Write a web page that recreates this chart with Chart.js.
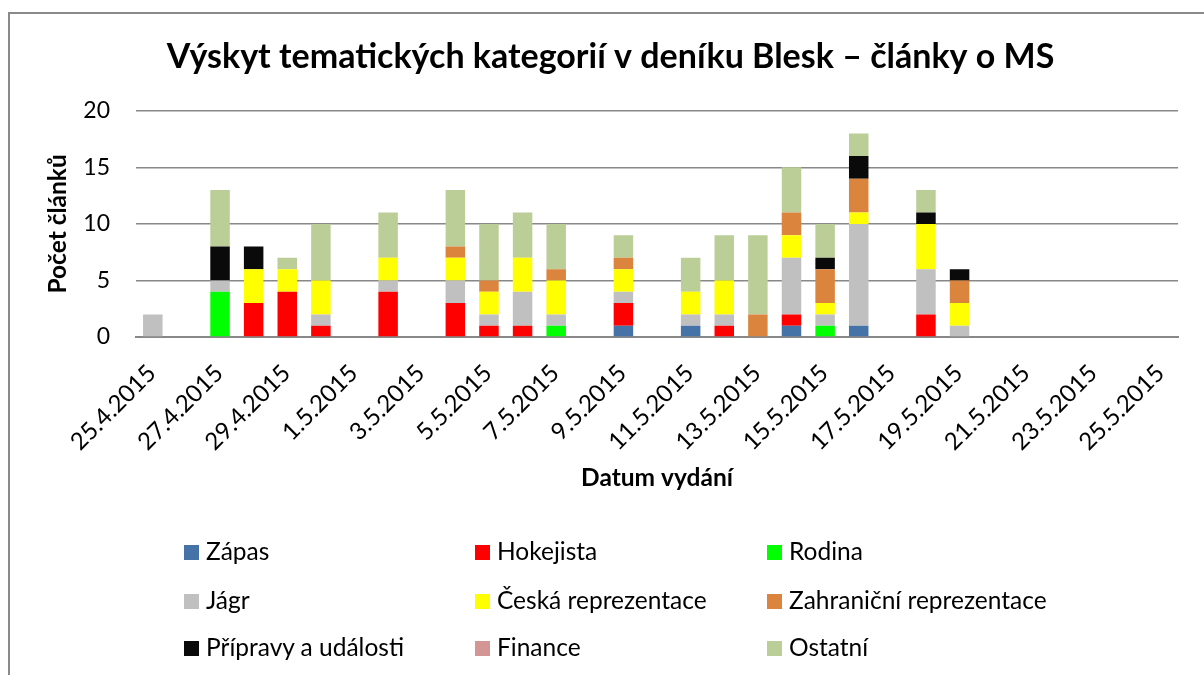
<!DOCTYPE html>
<html>
<head>
<meta charset="utf-8">
<script src="https://cdn.jsdelivr.net/npm/chart.js@4/dist/chart.umd.min.js"></script>
<style>
	body { margin:0; background:#fff; font-family:Lato, "Open Sans", sans-serif; }
	#wrap { position:relative; width:1204px; height:675px; overflow:hidden; }
	#frame { position:absolute; left:8px; top:12px; width:1300px; height:800px; border:2px solid #8a8a8a; box-sizing:border-box; }
	#c { position:absolute; left:0; top:0; }
	#legend .item { position:absolute; font-size:24.5px; color:#000; line-height:28px; white-space:nowrap; }
	#legend .box { display:inline-block; width:15px; height:15px; margin-right:7px; vertical-align:0px; }
</style>
</head>
<body>
<div id="wrap">
	<div id="frame"></div>
	<canvas id="c" width="1204" height="675"></canvas>
	<div id="legend"></div>
</div>
<script>
var dates = ['25.4.2015','26.4.2015','27.4.2015','28.4.2015','29.4.2015','30.4.2015',
	'1.5.2015','2.5.2015','3.5.2015','4.5.2015','5.5.2015','6.5.2015','7.5.2015','8.5.2015',
	'9.5.2015','10.5.2015','11.5.2015','12.5.2015','13.5.2015','14.5.2015','15.5.2015',
	'16.5.2015','17.5.2015','18.5.2015','19.5.2015','20.5.2015','21.5.2015','22.5.2015',
	'23.5.2015','24.5.2015','25.5.2015'];

//           25.4      30.4 1.5                 8.5 9.5              15.5                20.5        25.5
var zapas      = [0,0,0,0,0,0, 0,0,0,0,0,0,0,0, 1,0,1,0,0,1,0, 1,0,0,0, 0,0,0,0,0,0];
var hokejista  = [0,0,0,3,4,1, 0,4,0,3,1,1,0,0, 2,0,0,1,0,1,0, 0,0,2,0, 0,0,0,0,0,0];
var rodina     = [0,0,4,0,0,0, 0,0,0,0,0,0,1,0, 0,0,0,0,0,0,1, 0,0,0,0, 0,0,0,0,0,0];
var jagr       = [2,0,1,0,0,1, 0,1,0,2,1,3,1,0, 1,0,1,1,0,5,1, 9,0,4,1, 0,0,0,0,0,0];
var ceska      = [0,0,0,3,2,3, 0,2,0,2,2,3,3,0, 2,0,2,3,0,2,1, 1,0,4,2, 0,0,0,0,0,0];
var zahranicni = [0,0,0,0,0,0, 0,0,0,1,1,0,1,0, 1,0,0,0,2,2,3, 3,0,0,2, 0,0,0,0,0,0];
var pripravy   = [0,0,3,2,0,0, 0,0,0,0,0,0,0,0, 0,0,0,0,0,0,1, 2,0,1,1, 0,0,0,0,0,0];
var finance    = [0,0,0,0,0,0, 0,0,0,0,0,0,0,0, 0,0,0,0,0,0,0, 0,0,0,0, 0,0,0,0,0,0];
var ostatni    = [0,0,5,0,1,5, 0,4,0,5,5,4,4,0, 2,0,3,4,7,4,3, 2,0,2,0, 0,0,0,0,0,0];

var yTicks = [0, 5, 10, 15, 20];

var series = [
	{label:'Zápas', data:zapas, color:'#4572A7'},
	{label:'Hokejista', data:hokejista, color:'#FF0000'},
	{label:'Rodina', data:rodina, color:'#00FF00'},
	{label:'Jágr', data:jagr, color:'#C0C0C0'},
	{label:'Česká reprezentace', data:ceska, color:'#FFFF00'},
	{label:'Zahraniční reprezentace', data:zahranicni, color:'#DB843D'},
	{label:'Přípravy a události', data:pripravy, color:'#0A0A0A'},
	{label:'Finance', data:finance, color:'#D49595'},
	{label:'Ostatní', data:ostatni, color:'#BBCE98'}
];

var FONT = 'Lato, "Open Sans", sans-serif';
var GRID = '#888888';

var chart = new Chart(document.getElementById('c'), {
	type:'bar',
	data:{
		labels:dates,
		datasets:series.map(function(s){
			return {label:s.label, data:s.data, backgroundColor:s.color, borderWidth:0,
				barPercentage:0.58, categoryPercentage:1};
		})
	},
	options:{
		responsive:false,
		animation:false,
		layout:{padding:{left:40, right:23, top:12, bottom:180}},
		plugins:{
			legend:{display:false},
			tooltip:{enabled:false},
			title:{
				display:true,
				text:'Výskyt tematických kategorií v deníku Blesk – články o MS',
				color:'#000',
				font:{family:FONT, size:34, weight:'bold'},
				padding:{top:25, bottom:33}
			}
		},
		scales:{
			x:{
				stacked:true,
				grid:{display:false, drawTicks:false},
				border:{display:true, color:GRID, width:2},
				ticks:{
					autoSkip:false, maxRotation:45, minRotation:45,
					color:'#000', font:{family:FONT, size:24}, padding:22, labelOffset:-1,
					callback:function(v, i){ return i % 2 === 0 ? dates[i] : ''; }
				},
				title:{display:true, text:'Datum vydání', color:'#000',
					font:{family:FONT, size:24.5, weight:'bold'}, padding:{top:0, bottom:2}},
				afterFit:function(s){ s.height = 158; }
			},
			y:{
				stacked:true,
				min:0, max:20,
				afterBuildTicks:function(s){ s.ticks = yTicks.map(function(v){ return {value:v}; }); },
				grid:{color:GRID, lineWidth:1.5, drawTicks:false},
				border:{display:false},
				ticks:{color:'#000', font:{family:FONT, size:23}, padding:26},
				title:{display:true, text:'Počet článků', color:'#000',
					font:{family:FONT, size:24.5, weight:'bold'}, padding:{top:3, bottom:0}},
				afterFit:function(s){ s.width = 96; }
			}
		}
	}
});

// legenda ve třech sloupcích jako v Excelu
var colX = [184, 475, 767];
var rowY = [537, 586, 633];
var leg = document.getElementById('legend');
chart.data.datasets.forEach(function(ds, i){
	var d = document.createElement('div');
	d.className = 'item';
	d.style.left = colX[i % 3] + 'px';
	d.style.top = rowY[Math.floor(i / 3)] + 'px';
	d.innerHTML = '<span class="box" style="background:' + ds.backgroundColor + '"></span>' + ds.label;
	leg.appendChild(d);
});
</script>
</body>
</html>
